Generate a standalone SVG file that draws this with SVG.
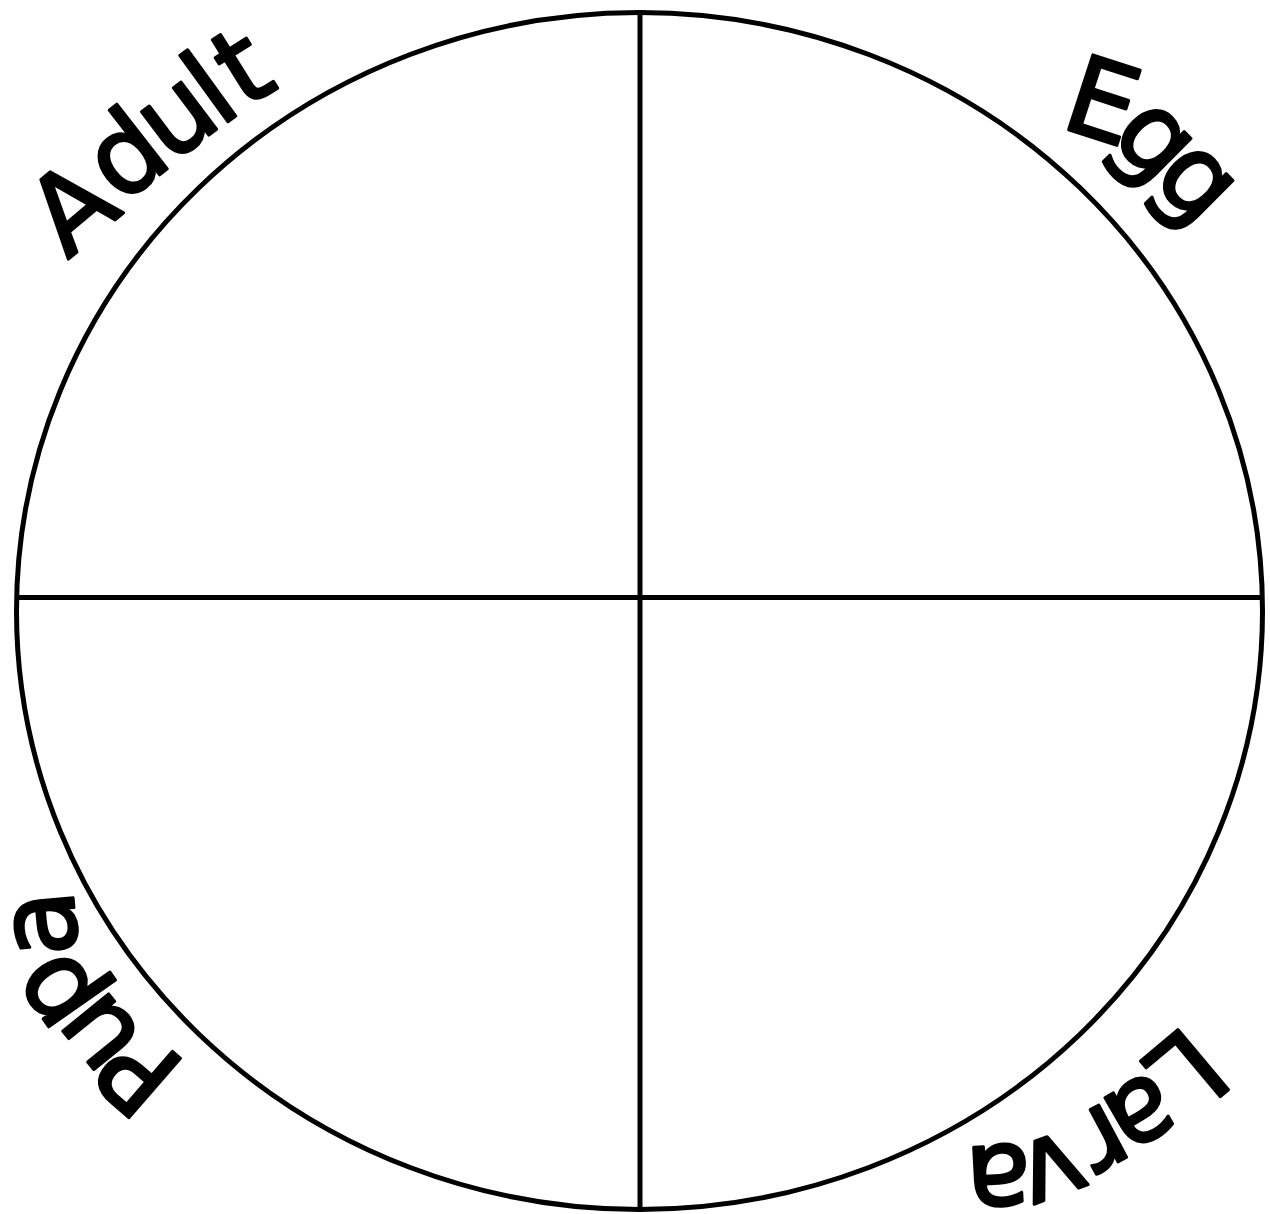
<svg xmlns="http://www.w3.org/2000/svg" width="1270" height="1214" viewBox="0 0 1270 1214">
<style>
.ln{fill:none;stroke:#000;stroke-width:5}
.lb{font-family:"DejaVu Sans","Liberation Sans",sans-serif;font-size:108px;fill:#000;stroke:#000;stroke-width:3;stroke-linejoin:round;text-anchor:middle}
</style>
<rect width="1270" height="1214" fill="#fff"/>
<g id="cycle">
<ellipse class="ln" cx="639.5" cy="611" rx="623" ry="598.5"/>
</g>
<g id="connectors">
<line class="ln" x1="640" y1="12" x2="640" y2="1210"/>
<line class="ln" x1="16" y1="597.5" x2="1263" y2="597.5"/>
</g>
<g id="adult">
<text class="lb" transform="translate(96,236) rotate(-40)">A</text>
<text class="lb" transform="translate(148,184) rotate(-38)">d</text>
<text class="lb" transform="translate(197,144) rotate(-37)">u</text>
<text class="lb" transform="translate(232,119) rotate(-36)">l</text>
<text class="lb" transform="translate(262,98) rotate(-32)">t</text>
</g>
<g id="egg">
<text class="lb" transform="translate(1091,137) rotate(18)">E</text>
<text class="lb" transform="translate(1132,163) rotate(45)">g</text>
<text class="lb" transform="translate(1174,205) rotate(45)">g</text>
</g>
<g id="larva">
<text class="lb" transform="translate(1163,1042) rotate(140)">L</text>
<text class="lb" transform="translate(1125,1086) rotate(150)">a</text>
<text class="lb" transform="translate(1088,1111) rotate(152)">r</text>
<text class="lb" transform="translate(1041,1139) rotate(160)">v</text>
<text class="lb" transform="translate(997,1146) rotate(177)">a</text>
</g>
<g id="pupa">
<text class="lb" transform="translate(164,1044) rotate(221)">P</text>
<text class="lb" transform="translate(124,1013) rotate(231)">u</text>
<text class="lb" transform="translate(83,973) rotate(235)">p</text>
<text class="lb" transform="translate(75,921) rotate(265)">a</text>
</g>
</svg>
